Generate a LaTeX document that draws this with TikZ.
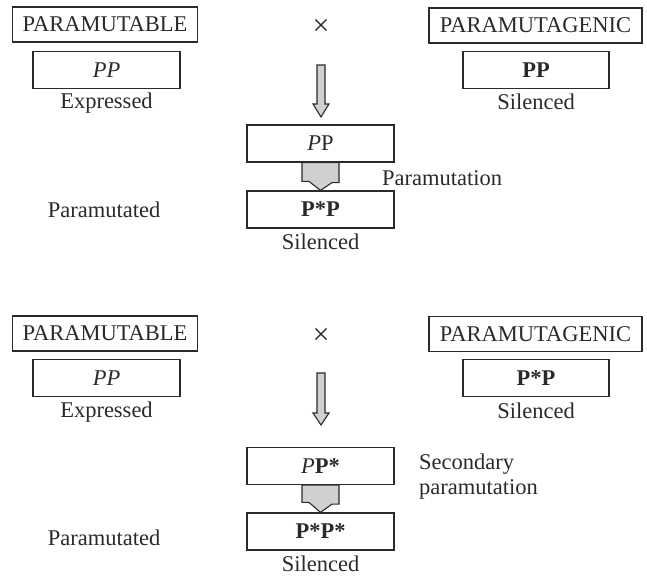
\documentclass[tikz,border=0pt]{standalone}
\usepackage{fontspec}
\setmainfont{Liberation Serif}
\usepackage{tikz}
\usetikzlibrary{positioning}

\definecolor{linegray}{HTML}{2A2A2A}
\definecolor{arrowgray}{HTML}{D0D0D0}

\tikzset{
	namebox/.style={draw=linegray, line width=1.2pt, minimum width=#1, minimum height=35pt, inner sep=0pt},
	genebox/.style={draw=linegray, line width=1.2pt, minimum width=#1, minimum height=37pt, inner sep=0pt},
	fatarrow/.style={draw=linegray, line width=1.1pt, fill=arrowgray, line join=miter},
	lbl/.style={inner sep=0pt, text=linegray},
	crosslbl/.style={inner sep=0pt, text=linegray, font=\fontsize{30}{32}\selectfont}
}

\begin{document}
\begin{tikzpicture}[x=1pt, y=-1pt, font=\fontsize{22.5}{25}\selectfont, text=linegray]
	\useasboundingbox (0,0) rectangle (647,576);
	% first cross
	\node [namebox=185pt] (MutA) at (105, 24.5) {PARAMUTABLE};
	\node [genebox=147pt] (PPa) at (106.5, 70) {\textit{PP}};
	\node [lbl] (ExpA) at (106.5, 103) {Expressed};
	\node [crosslbl] (CrossA) at (321, 27) {×};
	\node [namebox=213pt] (GenA) at (535.5, 25.5) {PARAMUTAGENIC};
	\node [genebox=146pt] (PPb) at (536, 70) {\textbf{PP}};
	\node [lbl] (SilA) at (536, 102) {Silenced};
	\coordinate (ArrA) at (321, 65);
	\node [genebox=147pt] (HetA) at (320.5, 143.5) {\textit{P}P};
	\node [genebox=147pt] (OutA) at (320.5, 209.5) {\textbf{P*P}};
	\node [lbl] (SilC) at (320.5, 242) {Silenced};
	\node [lbl, anchor=west] (ParA) at (382, 178) {Paramutation};
	\node [lbl] (PmA) at (104, 210) {Paramutated};
	\draw [fatarrow] (ArrA) ++(-4,0) -- ++(8,0) -- ++(0,39) -- ++(4,0)
		-- ++(-8,13) -- ++(-8,-13) -- ++(4,0) -- cycle;
	\draw [fatarrow] (HetA.south) ++(-18.5,0) -- ++(37,0) -- ++(0,20) -- ++(-7,0)
		-- (OutA.north) -- ++(-11.5,-9) -- ++(-7,0) -- cycle;
	% second cross
	\node [namebox=185pt] (MutB) at (105, 333.5) {PARAMUTABLE};
	\node [genebox=147pt] (PPc) at (106.5, 378) {\textit{PP}};
	\node [lbl] (ExpB) at (106.5, 412) {Expressed};
	\node [crosslbl] (CrossB) at (321, 336) {×};
	\node [namebox=213pt] (GenB) at (535.5, 334) {PARAMUTAGENIC};
	\node [genebox=146pt] (PPd) at (536, 378) {\textbf{P*P}};
	\node [lbl] (SilB) at (536, 411) {Silenced};
	\coordinate (ArrB) at (321, 373);
	\node [genebox=147pt] (HetB) at (320.5, 466) {\textit{P}\textbf{P*}};
	\node [genebox=147pt] (OutB) at (320.5, 531.5) {\textbf{P*P*}};
	\node [lbl] (SilD) at (320.5, 564) {Silenced};
	\node [lbl, anchor=west, align=left] (ParB) at (419, 477) {Secondary\\paramutation};
	\node [lbl] (PmB) at (104, 538) {Paramutated};
	\draw [fatarrow] (ArrB) ++(-4,0) -- ++(8,0) -- ++(0,40) -- ++(4,0)
		-- ++(-8,12) -- ++(-8,-12) -- ++(4,0) -- cycle;
	\draw [fatarrow] (HetB.south) ++(-18.5,0) -- ++(37,0) -- ++(0,19) -- ++(-7,0)
		-- (OutB.north) -- ++(-11.5,-10) -- ++(-7,0) -- cycle;
\end{tikzpicture}
\end{document}
